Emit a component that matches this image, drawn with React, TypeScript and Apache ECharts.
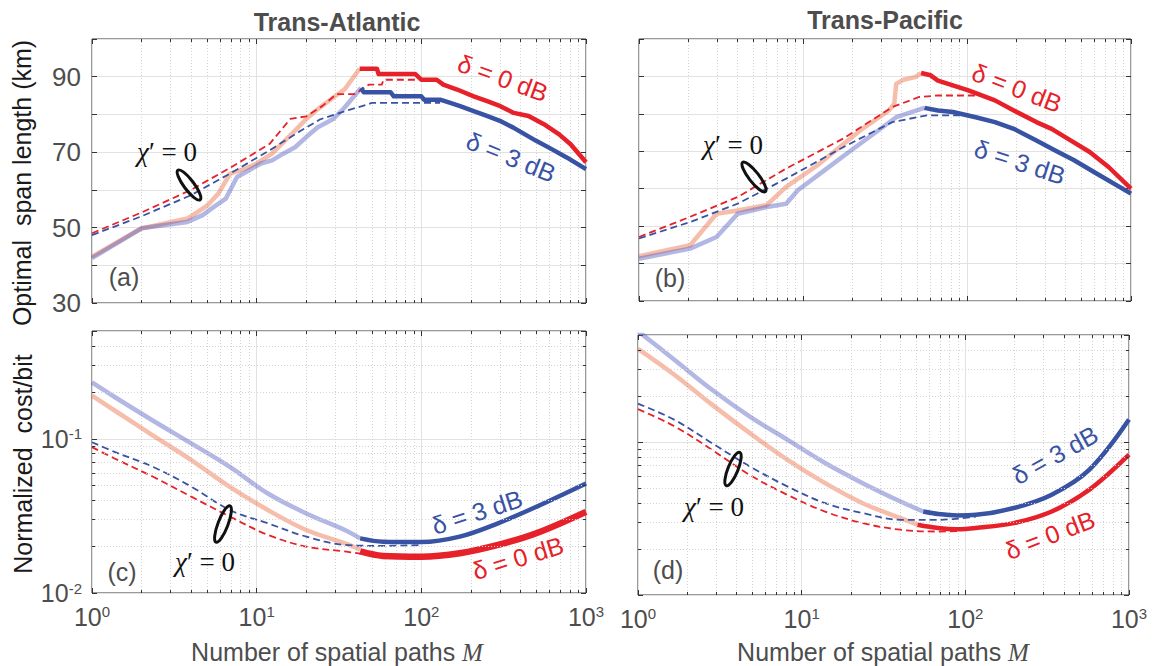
import React, { useEffect, useRef } from 'react';
import * as echarts from 'echarts';

type Pt = [number, number];

// ---- Trans-Atlantic: optimal span length (km) vs. number of spatial paths M ----
const TA_SPAN_D0_FADED: Pt[] = [[1, 42.3], [2, 49.8], [3.8, 52.4], [5, 55.8], [5.85, 59], [6.9, 64.3], [8.5, 65.6], [10, 67], [12.4, 69.6], [14.9, 73.1], [17.1, 75.7], [20, 78.8], [23.5, 81.4], [29.2, 84.5], [34.3, 86.7], [42.2, 92.1]];
const TA_SPAN_D0_BOLD: Pt[] = [[42.2, 92.1], [53.8, 92.1], [55, 90.7], [92, 90.7], [100, 89.2], [124, 89.2], [136, 87.9], [165, 86.6], [208, 84.8], [251, 83.5], [302, 82.2], [364, 80.4], [448, 79.6], [555, 77.4], [687, 74.7], [806, 72.1], [1000, 67.3]];
const TA_SPAN_D3_FADED: Pt[] = [[1, 41.9], [2, 49.8], [3.8, 51.5], [4.7, 53.3], [5.5, 55.5], [6.5, 57.7], [7.6, 63.4], [9, 65.2], [10.6, 67], [12.4, 67.8], [14.5, 69.6], [17.1, 71.3], [20, 74], [23.5, 76.6], [29.2, 78.8], [34.3, 81.9], [43, 87]];
const TA_SPAN_D3_BOLD: Pt[] = [[43, 87], [44.7, 85.9], [65, 85.9], [68, 84.8], [100, 84.8], [104, 83.9], [130, 83.9], [150, 83.05], [172, 82.2], [208, 80.9], [250, 79.6], [300, 78.3], [362, 76.5], [498, 73], [619, 70.8], [763, 68.6], [1000, 65.5]];
const TA_SPAN_D0_CHI0: Pt[] = [[1, 48.5], [2, 54], [4, 60], [7, 66], [12, 72.2], [16, 78.8], [20, 79.5], [25, 82.2], [30.6, 85.4], [39.6, 85.4], [48, 87.9], [57.5, 87.9], [59, 89.2], [97, 89.2]];
const TA_SPAN_D3_CHI0: Pt[] = [[1, 48], [2, 53], [4, 58.6], [7, 64.5], [12, 70.5], [18.4, 75.6], [24.3, 78.7], [36.9, 81.3], [43.6, 82.2], [50, 83.05], [130, 83.05]];

// ---- Trans-Pacific: optimal span length (km) ----
const TP_SPAN_D0_FADED: Pt[] = [[1, 42], [2.05, 44.9], [2.97, 53.3], [4, 54.2], [6, 55.6], [7.9, 60.5], [12.2, 66.2], [16.7, 71.1], [23, 76], [33.4, 80.9], [36, 82.7], [37, 88], [41, 89.1], [48.3, 89.8], [52.5, 90.9]];
const TP_SPAN_D0_BOLD: Pt[] = [[52.5, 90.9], [60, 90.3], [66.5, 88.9], [102, 86.3], [148, 83.6], [193, 80.9], [265, 77.8], [328, 76], [428, 72.9], [560, 69.8], [730, 65.8], [1000, 60]];
const TP_SPAN_D3_FADED: Pt[] = [[1, 41.3], [2.05, 44], [2.97, 47.1], [4, 53.3], [6, 55.1], [7.9, 56], [9.3, 59.6], [13.5, 64.9], [19.6, 70.2], [27, 74.7], [37, 79.1], [55, 81.6]];
const TP_SPAN_D3_BOLD: Pt[] = [[55, 81.6], [66.5, 80.9], [82, 80.5], [113, 79.1], [148, 77.8], [193, 76], [265, 72.9], [345, 70.2], [450, 67.6], [620, 64], [1000, 58.7]];
const TP_SPAN_D0_CHI0: Pt[] = [[1, 47.1], [2.05, 52.5], [4, 57.8], [7.9, 65.4], [17.6, 73.4], [35, 81.8], [51, 84.5], [66, 84.9], [125, 84.9]];
const TP_SPAN_D3_CHI0: Pt[] = [[1, 46.7], [2.05, 51.1], [4, 56], [7.9, 62.7], [17.6, 71.1], [35, 77.8], [57, 79.6], [100, 79.6]];

// ---- Trans-Atlantic: normalized cost/bit ----
const TA_COST_D3_FADED: Pt[] = [[1, 0.232], [1.38, 0.186], [2.35, 0.131], [4.03, 0.093], [6.87, 0.0657], [11.7, 0.0442], [20, 0.0328], [34.3, 0.0256], [42.5, 0.0226]];
const TA_COST_D3_BOLD: Pt[] = [[42.5, 0.0226], [58.5, 0.0215], [100, 0.0214], [171, 0.0232], [292, 0.0283], [499, 0.0362], [1000, 0.0513]];
const TA_COST_D0_FADED: Pt[] = [[1, 0.1905], [1.38, 0.152], [2.35, 0.105], [4.03, 0.0725], [6.87, 0.0488], [11.7, 0.0345], [20, 0.0256], [34.3, 0.021], [42.5, 0.0192]];
const TA_COST_D0_BOLD: Pt[] = [[42.5, 0.0186], [58.5, 0.0174], [100, 0.0172], [171, 0.0181], [292, 0.0205], [499, 0.0244], [1000, 0.0336]];
const TA_COST_D3_CHI0: Pt[] = [[1, 0.095], [1.38, 0.082], [2.35, 0.0657], [4.03, 0.0488], [6.87, 0.0345], [11.7, 0.0283], [20, 0.0232], [34.3, 0.0205], [58.5, 0.0202], [100, 0.0205]];
const TA_COST_D0_CHI0: Pt[] = [[1, 0.0883], [1.38, 0.0743], [2.35, 0.0567], [4.03, 0.042], [6.87, 0.0313], [11.7, 0.0238], [20, 0.02], [34.3, 0.0186], [42.5, 0.018]];

// ---- Trans-Pacific: normalized cost/bit ----
const TP_COST_D3_FADED: Pt[] = [[1, 0.53], [1.66, 0.346], [2.82, 0.22], [4.8, 0.147], [8.16, 0.1036], [13.9, 0.0728], [23.6, 0.0538], [40.2, 0.0408], [55.3, 0.0351]];
const TP_COST_D3_BOLD: Pt[] = [[55.3, 0.0351], [68.4, 0.0338], [89.2, 0.0331], [116, 0.0334], [198, 0.037], [337, 0.0452], [573, 0.0659], [1000, 0.14]];
const TP_COST_D0_FADED: Pt[] = [[1, 0.406], [1.66, 0.276], [2.82, 0.176], [4.8, 0.1146], [8.16, 0.0766], [13.9, 0.0538], [23.6, 0.0398], [40.2, 0.0318], [51, 0.0288]];
const TP_COST_D0_BOLD: Pt[] = [[51, 0.0288], [68.4, 0.0274], [89.2, 0.0269], [116, 0.0274], [198, 0.0295], [337, 0.0351], [573, 0.0488], [1000, 0.0826]];
const TP_COST_D3_CHI0: Pt[] = [[1, 0.178], [1.66, 0.14], [2.82, 0.0985], [4.8, 0.0694], [8.16, 0.0513], [13.9, 0.0398], [23.6, 0.0343], [40.2, 0.031], [68.4, 0.031], [116, 0.0325]];
const TP_COST_D0_CHI0: Pt[] = [[1, 0.164], [1.66, 0.127], [2.82, 0.0891], [4.8, 0.061], [8.16, 0.0452], [13.9, 0.0351], [23.6, 0.0295], [40.2, 0.0267], [68.4, 0.026], [89.2, 0.0262]];

// axis ranges and tick labels
const M_RANGE: Pt = [1, 1000];
const SPAN_RANGE: Pt = [30, 100];
const SPAN_STEP = 10;
const SPAN_LABELS = [30, 50, 70, 90];
const COST_RANGE: Pt = [0.01, 0.5];
const COST_MINOR = [0.02, 0.03, 0.04, 0.05, 0.06, 0.07, 0.08, 0.09, 0.2, 0.3, 0.4];
// minor tick length on the cost panels' side frames, as a factor along M
const MINOR_TICK_SPAN = 1.045;

const SANS = '"Liberation Sans", Arial, Helvetica, sans-serif';
const SERIF = '"Liberation Serif", "Times New Roman", serif';
const GREY = '#4d4d4d';
const FRAME = '#333333';
const RED = '#e62129';
const BLUE = '#3953a4';
const SALMON = 'rgba(236,112,72,0.46)';
const LAVENDER = 'rgba(82,92,192,0.44)';

// panel frames in pixels: [left, top, width, height]
const GRIDS = [
  [92, 39, 494, 264],
  [639, 39, 492, 262],
  [92, 331, 494, 262],
  [638, 335, 491, 260],
];

const isPow10 = (v: number) => {
  const e = Math.round(Math.log10(v));
  return Math.abs(v - Math.pow(10, e)) < 1e-6 * v ? e : null;
};

const powLabel = {
  formatter: (v: number) => {
    const e = isPow10(v);
    return e === null ? '' : `{b|10}{s|${e}}`;
  },
  rich: {
    b: { fontSize: 25, fontFamily: SANS, color: GREY },
    s: { fontSize: 15, fontFamily: SANS, color: GREY, verticalAlign: 'top' },
  },
};

function mAxis(grid: number, position: 'bottom' | 'top', labels: boolean) {
  const main = position === 'bottom';
  return {
    type: 'log', logBase: 10, gridIndex: grid, position,
    min: M_RANGE[0], max: M_RANGE[1],
    axisLine: { show: false },
    axisTick: { show: true, inside: true, length: 5, lineStyle: { color: FRAME } },
    minorTick: { show: true, splitNumber: 9, length: 3, lineStyle: { color: FRAME } },
    splitLine: { show: main, lineStyle: { color: '#e2e2e2', width: 1 } },
    minorSplitLine: { show: main, lineStyle: { color: '#d4d4d4', width: 1, type: [1, 2] } },
    axisLabel: labels ? { show: true, margin: 11, ...powLabel } : { show: false },
  };
}

function spanAxis(grid: number, position: 'left' | 'right', labels: boolean) {
  const main = position === 'left';
  return {
    type: 'value', gridIndex: grid, position,
    min: SPAN_RANGE[0], max: SPAN_RANGE[1], interval: SPAN_STEP,
    axisLine: { show: false },
    axisTick: { show: true, inside: true, length: 5, lineStyle: { color: FRAME } },
    splitLine: { show: main, lineStyle: { color: '#e2e2e2', width: 1 } },
    axisLabel: labels
      ? { show: true, margin: 11, fontSize: 26, fontFamily: SANS, color: GREY, formatter: (v: number) => (SPAN_LABELS.includes(v) ? String(v) : '') }
      : { show: false },
  };
}

function costAxis(grid: number, position: 'left' | 'right', labels: boolean) {
  const main = position === 'left';
  return {
    type: 'log', logBase: 10, gridIndex: grid, position,
    min: COST_RANGE[0], max: COST_RANGE[1],
    axisLine: { show: false },
    axisTick: { show: true, inside: true, length: 5, lineStyle: { color: FRAME } },
    splitLine: { show: main, lineStyle: { color: '#e2e2e2', width: 1 } },
    axisLabel: labels ? { show: true, margin: 10, ...powLabel } : { show: false },
  };
}

function line(axis: number, data: Pt[], color: string, width: number, z: number, dashed = false, smooth = false) {
  return {
    type: 'line', xAxisIndex: axis, yAxisIndex: axis, data,
    showSymbol: false, symbol: 'none', z,
    smooth: smooth ? 0.35 : false,
    lineStyle: { color, width, type: dashed ? [7, 4] : 'solid', cap: 'butt', join: 'round' },
    silent: true,
  };
}

// dotted minor grid plus short minor ticks on the left/right frame of a log-cost panel
function costMinor(axis: number) {
  const [m0, m1] = M_RANGE;
  const gridLines = COST_MINOR.map((v) => ({ yAxis: v }));
  const ticks = COST_MINOR.flatMap((v) => [
    [{ coord: [m0, v] }, { coord: [m0 * MINOR_TICK_SPAN, v] }],
    [{ coord: [m1 / MINOR_TICK_SPAN, v] }, { coord: [m1, v] }],
  ]);
  return [
    {
      type: 'line', xAxisIndex: axis, yAxisIndex: axis, data: [[m0, COST_RANGE[1]]], symbol: 'none', z: 1,
      lineStyle: { opacity: 0 }, silent: true,
      markLine: {
        silent: true, symbol: 'none', label: { show: false }, animation: false,
        lineStyle: { color: '#d4d4d4', width: 1, type: [1, 2] },
        data: gridLines,
      },
    },
    {
      type: 'line', xAxisIndex: axis, yAxisIndex: axis, data: [[m0, COST_RANGE[1]]], symbol: 'none', z: 6,
      lineStyle: { opacity: 0 }, silent: true,
      markLine: {
        silent: true, symbol: 'none', label: { show: false }, animation: false,
        lineStyle: { color: FRAME, width: 1, type: 'solid' },
        data: ticks,
      },
    },
  ];
}

function panelSeries(axis: number, sets: Pt[][], cost: boolean, redBoldWidth: number) {
  const [d0Faded, d0Bold, d3Faded, d3Bold, d0Chi, d3Chi] = sets;
  return [
    line(axis, d0Faded, SALMON, 4.5, 2, false, cost),
    line(axis, d3Faded, LAVENDER, 4.5, 2, false, cost),
    line(axis, d0Chi, RED, 1.8, 3, true, cost),
    line(axis, d3Chi, BLUE, 1.8, 3, true, cost),
    line(axis, d0Bold, RED, redBoldWidth, 4, false, cost),
    line(axis, d3Bold, BLUE, 4.5, 4, false, cost),
  ];
}

const deg = (d: number) => (d * Math.PI) / 180;

function label(x: number, y: number, text: string, color: string, rot = 0, size = 25, weight: string = 'normal') {
  return {
    type: 'text', x, y, rotation: deg(rot), silent: true, z: 10,
    style: { text, fill: color, font: `${weight} ${size}px ${SANS}`, align: 'center', verticalAlign: 'middle' },
  };
}

function chiLabel(x: number, y: number) {
  return {
    type: 'text', x, y, silent: true, z: 10,
    style: {
      text: '{i|χ}{n|′\u2005=\u20050}', align: 'center', verticalAlign: 'middle',
      rich: {
        i: { font: `italic 27px ${SERIF}`, fill: '#111' },
        n: { font: `27px ${SERIF}`, fill: '#111' },
      },
    },
  };
}

function loop(x: number, y: number, rx: number, ry: number, rot: number) {
  return {
    type: 'ellipse', x, y, rotation: deg(rot), silent: true, z: 10,
    shape: { cx: 0, cy: 0, rx, ry },
    style: { fill: 'none', stroke: '#111', lineWidth: 3 },
  };
}

function xTitle(x: number, y: number) {
  return {
    type: 'text', x, y, silent: true, z: 10,
    style: {
      text: '{n|Number of spatial paths }{m|M}', align: 'center', verticalAlign: 'middle',
      rich: {
        n: { font: `25px ${SANS}`, fill: GREY },
        m: { font: `italic 25px ${SERIF}`, fill: GREY },
      },
    },
  };
}

export default function App() {
  const ref = useRef<HTMLDivElement>(null);

  useEffect(() => {
    if (!ref.current) return;
    const chart = echarts.init(ref.current, undefined, { renderer: 'svg' });

    const grid = GRIDS.map(([left, top, width, height]) => ({
      left, top, width, height, show: true, borderColor: FRAME, borderWidth: 1,
      backgroundColor: 'transparent', containLabel: false, outerBoundsMode: 'none',
    }));

    // axis index i is the main (bottom/left) axis of panel i, i + 4 is its mirror
    const xAxis = [
      mAxis(0, 'bottom', false), mAxis(1, 'bottom', false), mAxis(2, 'bottom', true), mAxis(3, 'bottom', true),
      mAxis(0, 'top', false), mAxis(1, 'top', false), mAxis(2, 'top', false), mAxis(3, 'top', false),
    ];
    const yAxis = [
      spanAxis(0, 'left', true), spanAxis(1, 'left', false), costAxis(2, 'left', true), costAxis(3, 'left', false),
      spanAxis(0, 'right', false), spanAxis(1, 'right', false), costAxis(2, 'right', false), costAxis(3, 'right', false),
    ];

    const series = [
      ...costMinor(2),
      ...costMinor(3),
      ...panelSeries(0, [TA_SPAN_D0_FADED, TA_SPAN_D0_BOLD, TA_SPAN_D3_FADED, TA_SPAN_D3_BOLD, TA_SPAN_D0_CHI0, TA_SPAN_D3_CHI0], false, 4.5),
      ...panelSeries(1, [TP_SPAN_D0_FADED, TP_SPAN_D0_BOLD, TP_SPAN_D3_FADED, TP_SPAN_D3_BOLD, TP_SPAN_D0_CHI0, TP_SPAN_D3_CHI0], false, 4.5),
      ...panelSeries(2, [TA_COST_D0_FADED, TA_COST_D0_BOLD, TA_COST_D3_FADED, TA_COST_D3_BOLD, TA_COST_D0_CHI0, TA_COST_D3_CHI0], true, 6.5),
      ...panelSeries(3, [TP_COST_D0_FADED, TP_COST_D0_BOLD, TP_COST_D3_FADED, TP_COST_D3_BOLD, TP_COST_D0_CHI0, TP_COST_D3_CHI0], true, 4.5),
    ];

    const graphic = [
      label(337, 22, 'Trans-Atlantic', GREY, 0, 25, 'bold'),
      label(885, 20, 'Trans-Pacific', GREY, 0, 25, 'bold'),
      label(21.5, 183, 'Optimal  span length (km)', '#1a1a1a', 90, 25),
      label(23, 464, 'Normalized  cost/bit', '#1a1a1a', 90, 25),
      xTitle(337, 652),
      xTitle(883, 652),
      label(124, 277, '(a)', GREY),
      label(670, 278, '(b)', GREY),
      label(122, 572, '(c)', GREY),
      label(668, 570, '(d)', GREY),
      label(503, 78, 'δ = 0 dB', RED, -20),
      label(511, 157, 'δ = 3 dB', BLUE, -22),
      label(1017, 88, 'δ = 0 dB', RED, -21),
      label(1020, 162, 'δ = 3 dB', BLUE, -18),
      label(477, 512, 'δ = 3 dB', BLUE, 18),
      label(518, 558, 'δ = 0 dB', RED, 17),
      label(1055, 455, 'δ = 3 dB', BLUE, 29),
      label(1050, 535, 'δ = 0 dB', RED, 21),
      chiLabel(167, 152),
      chiLabel(733, 145),
      chiLabel(205, 562),
      chiLabel(714, 507),
      loop(189, 185, 18.5, 5, -53),
      loop(754, 177, 18.5, 5, -52),
      loop(223, 524, 19.5, 5, 69),
      loop(733, 469, 18, 5, 68),
    ];

    chart.setOption({
      animation: false,
      backgroundColor: '#ffffff',
      textStyle: { fontFamily: SANS },
      grid, xAxis, yAxis, series, graphic,
    });

    return () => chart.dispose();
  }, []);

  return <div ref={ref} style={{ position: 'fixed', left: 0, top: 0, width: 1153, height: 666 }} />;
}
